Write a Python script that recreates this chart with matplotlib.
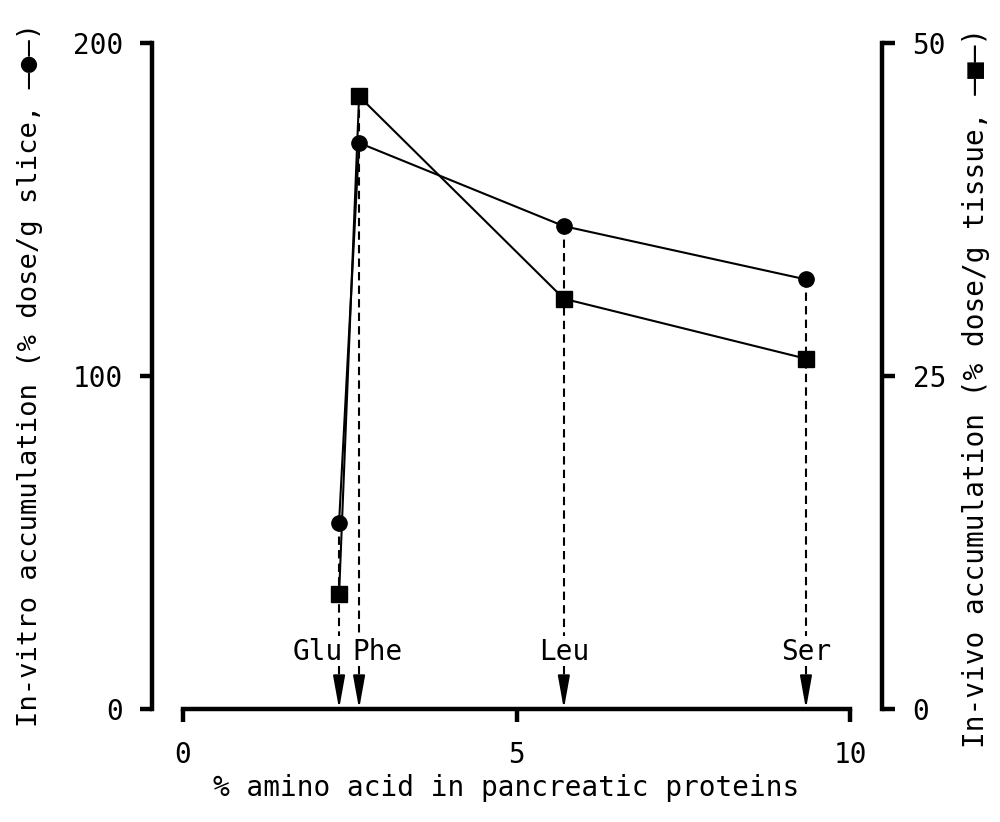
import matplotlib
matplotlib.use("Agg")
import matplotlib.pyplot as plt

plt.rcParams['font.family'] = ['DejaVu Sans Mono', 'DejaVu Sans']

# ---- data ----
amino_acids = ["Glu", "Phe", "Leu", "Ser"]
pct_in_protein = [2.34, 2.64, 5.71, 9.34]
in_vitro = [56, 170, 145, 129]        # % dose/g slice (left axis, circles)
in_vivo = [8.6, 46.0, 30.8, 26.3]     # % dose/g tissue (right axis, squares)
x_ticks = [0, 5, 10]
left_ticks = [0, 100, 200]
right_ticks = [0, 25, 50]

W, H = 1000, 822
fig = plt.figure(figsize=(10, 8.22), dpi=100)

ax_l, ax_r, ax_b, ax_t = 152, 882, 709, 43
ax = fig.add_axes([ax_l / W, 1 - ax_b / H, (ax_r - ax_l) / W, (ax_b - ax_t) / H])
ax2 = ax.twinx()

ppu = (850 - 183) / 10.0
ax.set_xlim(-(183 - ax_l) / ppu, 10 + (ax_r - 850) / ppu)
ax.set_ylim(0, 200)
ax2.set_ylim(0, 50)

lw_sp = 3.2
for a in (ax, ax2):
    a.patch.set_visible(False)
    for s in a.spines.values():
        s.set_visible(False)
ax.spines['left'].set_visible(True)
ax.spines['left'].set_linewidth(lw_sp)
ax.spines['left'].set_bounds(0, 200)
ax.spines['bottom'].set_visible(True)
ax.spines['bottom'].set_linewidth(lw_sp)
ax.spines['bottom'].set_bounds(0, 10)
ax2.spines['right'].set_visible(True)
ax2.spines['right'].set_linewidth(lw_sp)
ax2.spines['right'].set_bounds(0, 50)

fs = 20
ax.set_xticks(x_ticks)
ax.set_xticklabels([str(t) for t in x_ticks], fontsize=fs)
ax.set_yticks(left_ticks)
ax.set_yticklabels([str(t) for t in left_ticks], fontsize=fs)
ax2.set_yticks(right_ticks)
ax2.set_yticklabels([str(t) for t in right_ticks], fontsize=fs)
ax.tick_params(axis='y', direction='out', length=9, width=lw_sp, pad=12)
ax.tick_params(axis='x', direction='out', length=9, width=lw_sp, pad=14)
ax2.tick_params(axis='y', direction='out', length=9, width=lw_sp, pad=13)

# connecting lines and markers
ax.plot(pct_in_protein, in_vitro, color='black', lw=1.5, marker='o', ms=11,
        zorder=5, clip_on=False)
ax2.plot(pct_in_protein, in_vivo, color='black', lw=1.5, marker='s', ms=12,
         zorder=5, clip_on=False)

# dashed drop lines, labels, arrows
label_y = 17
top_gap = 22
for i, (name, x) in enumerate(zip(amino_acids, pct_in_protein)):
    top = max(in_vitro[i], in_vivo[i] * 4)
    ax.plot([x, x], [top, top_gap], color='black', lw=1.5, ls=(0, (4, 2.5)), zorder=3)
    ax.plot([x, x], [13, 7], color='black', lw=1.5, ls=(0, (4, 2.5)), zorder=3)
    ax.annotate('', xy=(x, 0), xytext=(x, 8.5),
                arrowprops=dict(arrowstyle='-|>,head_length=1.0,head_width=0.18',
                                color='black', lw=1.5, shrinkA=0, shrinkB=0,
                                mutation_scale=20))
    if name == "Glu":
        ax.text(x + 0.05, label_y, name, ha='right', va='center', fontsize=fs,
                bbox=dict(facecolor='white', edgecolor='none', pad=0), zorder=4)
    elif name == "Phe":
        ax.text(x - 0.1, label_y, name, ha='left', va='center', fontsize=fs,
                bbox=dict(facecolor='white', edgecolor='none', pad=0), zorder=4)
    else:
        ax.text(x, label_y, name, ha='center', va='center', fontsize=fs,
                bbox=dict(facecolor='white', edgecolor='none', pad=0), zorder=4)

fig.text(506 / W, 1 - 788 / H, "% amino acid in pancreatic proteins",
         ha='center', va='center', fontsize=fs)
fig.text(30 / W, 1 - 375 / H, "In-vitro accumulation (% dose/g slice, \u2014\u25cf\u2014)",
         ha='center', va='center', rotation=90, fontsize=19.5)
fig.text(976 / W, 1 - 388 / H, "In-vivo accumulation (% dose/g tissue, \u2014\u25a0\u2014)",
         ha='center', va='center', rotation=90, fontsize=20)

fig.savefig("out.png", dpi=100, facecolor='white')
